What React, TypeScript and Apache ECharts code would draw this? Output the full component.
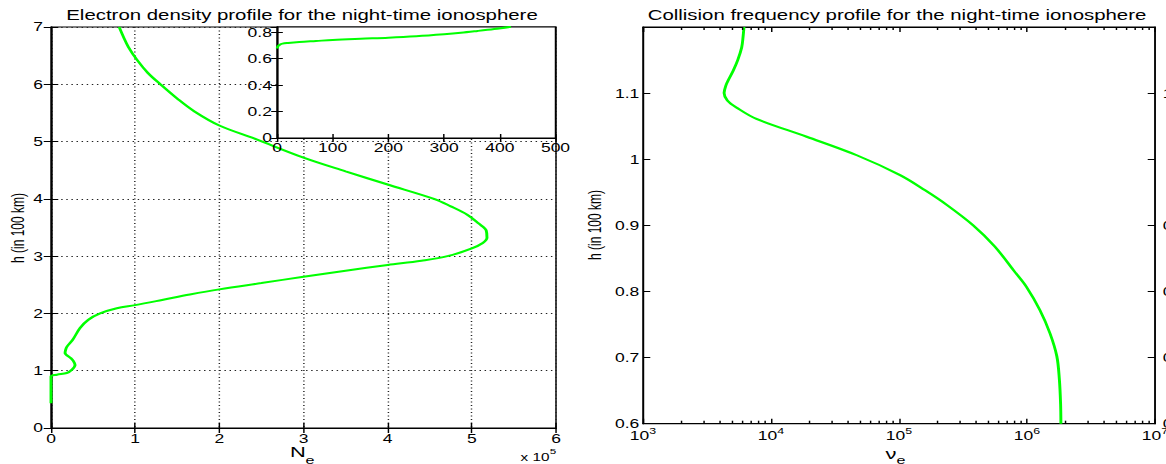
import React, { useEffect, useRef } from 'react';
import * as echarts from 'echarts';

// ---------------- data ----------------
const TITLE_LEFT = 'Electron density profile for the night-time ionosphere';
const TITLE_RIGHT = 'Collision frequency profile for the night-time ionosphere';
const Y_LABEL = 'h (in 100 km)';

// Electron density N_e (x 10^5) vs height h (in 100 km)
const MAIN_PROFILE: [number, number][] = [
  [0, 0.43], [0, 0.9], [0.07, 0.93], [0.187, 0.96], [0.246, 1.015], [0.286, 1.1],
  [0.265, 1.17], [0.235, 1.22], [0.167, 1.31], [0.175, 1.37], [0.19, 1.42], [0.258, 1.54],
  [0.345, 1.745], [0.444, 1.89], [0.583, 2.0], [0.782, 2.09], [1.0, 2.145], [1.32, 2.235],
  [1.65, 2.33], [2.0, 2.42], [2.5, 2.53], [3.0, 2.64], [3.5, 2.745], [4.0, 2.845],
  [4.4, 2.92], [4.71, 3.0], [5.0, 3.137], [5.13, 3.23], [5.18, 3.32], [5.17, 3.45],
  [5.08, 3.57], [4.95, 3.72], [4.75, 3.87], [4.55, 4.0], [4.0, 4.25], [3.5, 4.48],
  [3.0, 4.72], [2.42, 5.05], [2.0, 5.28], [1.7, 5.53], [1.5, 5.75], [1.3, 6.0],
  [1.15, 6.2], [1.02, 6.43], [0.92, 6.65], [0.86, 6.83], [0.81, 7.0],
];

// Inset: low-altitude part
const INSET_PROFILE: [number, number][] = [
  [0, 0.678], [2, 0.695], [5, 0.706], [10, 0.714], [20, 0.719], [40, 0.726], [70, 0.734],
  [100, 0.742], [150, 0.751], [200, 0.759], [250, 0.77], [300, 0.785], [330, 0.796],
  [360, 0.81], [390, 0.825], [420, 0.842],
];

// Collision frequency nu_e vs height h (in 100 km)
const NU_PROFILE: [number, number][] = [
  [6150, 1.2], [6050, 1.185], [5900, 1.169], [5500, 1.15], [5070, 1.134], [4650, 1.12],
  [4450, 1.112], [4300, 1.1], [4560, 1.089], [5400, 1.078], [7700, 1.061], [19000, 1.034],
  [46800, 1.006], [102000, 0.976], [160000, 0.953], [236000, 0.931], [380000, 0.9],
  [560000, 0.868], [800000, 0.83], [990000, 0.807], [1260000, 0.772], [1510000, 0.737],
  [1710000, 0.702], [1790000, 0.667], [1830000, 0.63], [1840000, 0.6],
];

const LOG_DECADES = [1e3, 1e4, 1e5, 1e6];
const LOG_MULTIPLIERS = [2, 3, 4, 5, 6, 7, 8, 9];

// ---------------- layout helpers ----------------
const S = 1166 / 800; // the reference figure is stretched horizontally
const bx = (x: number) => x / S;
const F = "'Liberation Sans', Arial, sans-serif";
const BLACK = '#000';
const GREEN = '#00ff00';

const lbl = (extra: any = {}) => ({ color: BLACK, fontFamily: F, fontSize: 12, ...extra });
const line = { show: true, lineStyle: { color: BLACK, width: 1 } };
const tick = (len: number) => ({ show: true, inside: true, length: len, lineStyle: { color: BLACK, width: 1 } });
const dotted = { show: true, lineStyle: { color: '#222', width: 1, type: [1, 2.5] } };

export default function App() {
  const ref = useRef<HTMLDivElement>(null);

  useEffect(() => {
    if (!ref.current) return;
    const chart = echarts.init(ref.current, undefined, { renderer: 'svg', width: 800, height: 464 });

    const minorTicks: [number, number][] = [];
    LOG_DECADES.forEach((d) => LOG_MULTIPLIERS.forEach((m) => minorTicks.push([d * m, 0.6])));

    const gridBase = { containLabel: false, outerBoundsMode: 'none', show: true, borderColor: BLACK, borderWidth: 1, backgroundColor: '#fff' };
    const greenLine = (xi: number, yi: number, data: [number, number][], z: number) => ({
      type: 'line', xAxisIndex: xi, yAxisIndex: yi, data, showSymbol: false, smooth: 0.35, smoothMonotone: 'none',
      lineStyle: { color: GREEN, width: 2 }, itemStyle: { color: GREEN }, z, silent: true,
    });
    const txt = (text: string, x: number, y: number, fontSize: number, extra: any = {}) => ({
      type: 'text', x, y, z: 100, ...extra,
      style: { text, fontFamily: F, fontSize, fill: BLACK, align: 'center', verticalAlign: 'middle' },
    });

    const option: any = {
      animation: false,
      backgroundColor: '#fff',
      grid: [
        { ...gridBase, left: bx(51), top: 27, width: bx(556) - bx(51), height: 401, z: 0 },
        { ...gridBase, left: bx(277), top: 27, width: bx(555.5) - bx(277), height: 111, z: 10 },
        { ...gridBase, left: bx(643), top: 27, width: bx(1155) - bx(643), height: 396.7, z: 0 },
      ],
      xAxis: [
        { gridIndex: 0, type: 'value', min: 0, max: 6, interval: 1, position: 'bottom', axisLine: line, axisTick: tick(5),
          axisLabel: lbl({ margin: 5 }), splitLine: dotted, z: 1 },
        { gridIndex: 0, type: 'value', min: 0, max: 6, interval: 1, position: 'top', axisLine: line, axisTick: tick(5),
          axisLabel: { show: false }, splitLine: { show: false }, z: 1 },
        { gridIndex: 1, type: 'value', min: 0, max: 500, interval: 100, position: 'bottom', axisLine: line, axisTick: tick(4),
          axisLabel: lbl({ margin: 4 }), splitLine: { show: false }, z: 11 },
        { gridIndex: 1, type: 'value', min: 0, max: 500, interval: 100, position: 'top', axisLine: line, axisTick: tick(4),
          axisLabel: { show: false }, splitLine: { show: false }, z: 11 },
        { gridIndex: 2, type: 'log', logBase: 10, min: 1e3, max: 1e7, position: 'bottom', axisLine: line, axisTick: tick(5),
          axisLabel: {
            margin: 3,
            formatter: (v: number) => `{a|10}{b|${Math.round(Math.log10(v))}}`,
            rich: {
              a: { color: BLACK, fontFamily: F, fontSize: 12 },
              b: { color: BLACK, fontFamily: F, fontSize: 8.5, padding: [0, 0, 8, 0] },
            },
          },
          splitLine: { show: false }, z: 1 },
        { gridIndex: 2, type: 'log', logBase: 10, min: 1e3, max: 1e7, position: 'top', axisLine: line, axisTick: tick(5),
          axisLabel: { show: false }, splitLine: { show: false }, z: 1 },
      ],
      yAxis: [
        { gridIndex: 0, type: 'value', min: 0, max: 7, interval: 1, position: 'left', axisLine: line, axisTick: tick(5),
          axisLabel: lbl({ margin: 5.5 }), splitLine: dotted, z: 1 },
        { gridIndex: 0, type: 'value', min: 0, max: 7, interval: 1, position: 'right', axisLine: line, axisTick: tick(5),
          axisLabel: { show: false }, splitLine: { show: false }, z: 1 },
        { gridIndex: 1, type: 'value', min: 0, max: 0.84, interval: 0.2, position: 'left', axisLine: line, axisTick: tick(4),
          axisLabel: lbl({ margin: 3.5, showMaxLabel: false }), splitLine: { show: false }, z: 11 },
        { gridIndex: 1, type: 'value', min: 0, max: 0.84, interval: 0.2, position: 'right', axisLine: line, axisTick: tick(4),
          axisLabel: { show: false }, splitLine: { show: false }, z: 11 },
        { gridIndex: 2, type: 'value', min: 0.6, max: 1.2, interval: 0.1, position: 'left', axisLine: line, axisTick: tick(5),
          axisLabel: lbl({ margin: 2.5, showMaxLabel: false }), splitLine: { show: false }, z: 1 },
        { gridIndex: 2, type: 'value', min: 0.6, max: 1.2, interval: 0.1, position: 'right', axisLine: line, axisTick: tick(5),
          axisLabel: lbl({ margin: 22, align: 'right', showMaxLabel: false }), splitLine: { show: false }, z: 1 },
      ],
      series: [
        greenLine(0, 0, MAIN_PROFILE, 3),
        greenLine(2, 2, INSET_PROFILE, 12),
        greenLine(4, 4, NU_PROFILE, 3),
        {
          type: 'custom', xAxisIndex: 4, yAxisIndex: 4, data: minorTicks, z: 4, silent: true,
          renderItem: (_p: any, api: any) => {
            const v = api.value(0);
            const b = api.coord([v, 0.6]);
            const t = api.coord([v, 1.2]);
            const st = { stroke: BLACK, lineWidth: 1 };
            return {
              type: 'group',
              children: [
                { type: 'line', shape: { x1: b[0], y1: b[1], x2: b[0], y2: b[1] - 3 }, style: st },
                { type: 'line', shape: { x1: t[0], y1: t[1], x2: t[0], y2: t[1] + 3 }, style: st },
              ],
            };
          },
        },
      ],
      graphic: [
        txt(TITLE_LEFT, bx(302), 15, 14),
        txt(TITLE_RIGHT, bx(897), 15, 14),
        txt(Y_LABEL, bx(18), 228, 12, { rotation: Math.PI / 2 }),
        txt(Y_LABEL, bx(595), 225, 12, { rotation: Math.PI / 2 }),
        txt('N', bx(298), 452, 15),
        txt('e', bx(310), 460, 11),
        txt('x 10', bx(535), 457, 10.5),
        txt('5', bx(553), 451, 8),
        txt('ν', bx(891), 454, 15),
        txt('e', bx(901), 460, 11),
      ],
    };

    chart.setOption(option);
    return () => chart.dispose();
  }, []);

  return (
    <div style={{ position: 'fixed', left: 0, top: 0, width: 1166, height: 464, overflow: 'hidden', background: '#fff' }}>
      <div ref={ref} style={{ width: 800, height: 464, transform: `scaleX(${S})`, transformOrigin: '0 0' }} />
    </div>
  );
}
